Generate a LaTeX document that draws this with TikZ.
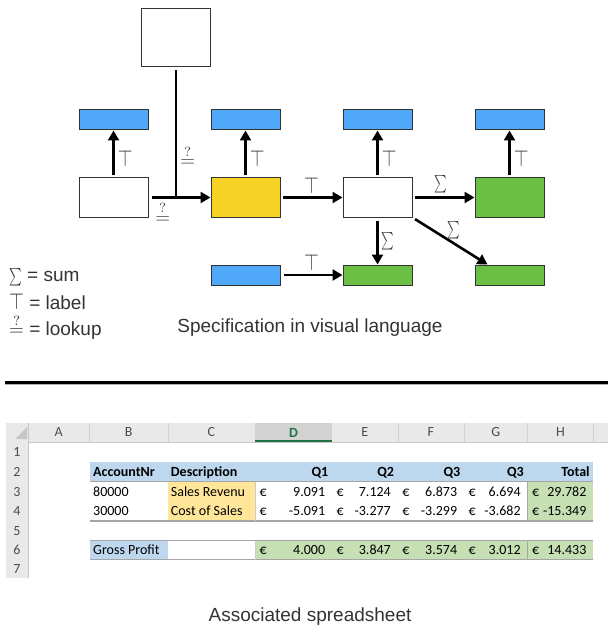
\documentclass[tikz,border=0pt]{standalone}
\usepackage{graphicx}
\usepackage{fontspec}
\setmainfont{Liberation Sans}
\newfontfamily\xlfont{Carlito}
\usetikzlibrary{
    arrows.meta,
    positioning
}

\definecolor{boxblue}{HTML}{52A8F8}
\definecolor{boxyellow}{HTML}{F5D327}
\definecolor{boxgreen}{HTML}{6CBE45}
\definecolor{hdrgray}{HTML}{E9E9E9}
\definecolor{hdrsel}{HTML}{D2D2D2}
\definecolor{xlgreen}{HTML}{217346}
\definecolor{cellblue}{HTML}{BDD7EE}
\definecolor{cellyellow}{HTML}{FFE699}
\definecolor{cellgreen}{HTML}{C6E0B4}
\definecolor{gridgray}{HTML}{A6A6A6}

% symbols, scaled from 10pt math
\newcommand{\labsym}{{\fontsize{10}{10}\selectfont\scalebox{1.9}[2.3]{$\top$}}}
\newcommand{\sumsym}{{\fontsize{10}{10}\selectfont\scalebox{1.2}[1.75]{$\sum$}}}
\newcommand{\lkpsym}{{\fontsize{10}{10}\selectfont\scalebox{1.9}[1.9]{$\stackrel{?}{=}$}}}

\begin{document}
\begin{tikzpicture}[
    x=1pt, y=-1pt,
    bigbox/.style = {rectangle, draw=black!80, line width=1pt,
                     minimum width=69pt, minimum height=39pt, inner sep=0pt},
    smallbox/.style = {rectangle, draw=black!80, line width=1pt,
                       minimum width=69pt, minimum height=20pt, inner sep=0pt},
    flowarrow/.style = {line width=2.6pt, -{Triangle[length=10pt,width=11pt]}},
    symlabel/.style = {text=black!75, inner sep=3pt},
    caption/.style = {text=black!80, font=\fontsize{19}{23}\selectfont, inner sep=0pt},
    cell/.style = {font=\xlfont\fontsize{14}{16}\selectfont, inner sep=0pt, anchor=base west},
    hdrcell/.style = {cell, font=\xlfont\bfseries\fontsize{14}{16}\selectfont},
    colhead/.style = {font=\xlfont\fontsize{14}{16}\selectfont, text=black!70, inner sep=0pt}
]
    \useasboundingbox (0,0) rectangle (608,628);

    % specification in visual language
    \node[bigbox] (src) at (113.5,197.5) {};
    \node[bigbox, fill=boxyellow] (look) [right=62pt of src] {};
    \node[bigbox] (calc) [right=62pt of look] {};
    \node[bigbox, fill=boxgreen] (sum) [right=62pt of calc] {};
    \node[bigbox, minimum height=58pt] (ref) at (176,38) {};

    \node[smallbox, fill=boxblue] (srclab) [above=47pt of src] {};
    \node[smallbox, fill=boxblue] (looklab) [above=47pt of look] {};
    \node[smallbox, fill=boxblue] (calclab) [above=47pt of calc] {};
    \node[smallbox, fill=boxblue] (sumlab) [above=47pt of sum] {};
    \node[smallbox, fill=boxgreen] (subtot) [below=47pt of calc] {};
    \node[smallbox, fill=boxgreen] (share) [below=47pt of sum] {};
    \node[smallbox, fill=boxblue] (const) [left=62pt of subtot] {};

    \draw[flowarrow, shorten <=2pt] (src.north) -- node[symlabel, right, pos=0.4] {\labsym} (srclab.south);
    \draw[flowarrow, shorten <=2pt] (look.north) -- node[symlabel, right, pos=0.4] {\labsym} (looklab.south);
    \draw[flowarrow, shorten <=2pt] (calc.north) -- node[symlabel, right, pos=0.4] {\labsym} (calclab.south);
    \draw[flowarrow, shorten <=2pt] (sum.north) -- node[symlabel, right, pos=0.4] {\labsym} (sumlab.south);

    \draw[line width=2.6pt, shorten <=3pt] (ref.south) -- node[symlabel, right, pos=0.68] {\lkpsym} (ref.south |- look.west);
    \draw[flowarrow, shorten <=3pt] (src.east) -- node[symlabel, below, pos=0.23] {\lkpsym} (look.west);
    \draw[flowarrow, shorten <=2pt] (look.east) -- node[symlabel, above] {\labsym} (calc.west);
    \draw[flowarrow, shorten <=2pt] (calc.east) -- node[symlabel, above, pos=0.45] {\sumsym} (sum.west);
    \draw[flowarrow, shorten <=3pt] (calc.south) -- node[symlabel, right] {\sumsym} (subtot.north);
    \draw[flowarrow, shorten <=3pt] (calc.south east) -- node[symlabel, above, pos=0.55] {\sumsym} ([xshift=13pt]share.north west);
    \draw[flowarrow, shorten <=3pt] (const.east) -- node[symlabel, above] {\labsym} (subtot.west);

    % legend
    \node[caption, anchor=west] (legsum) at (9,277) {\sumsym{} = sum};
    \node[caption, anchor=west] (leglabel) at (9,302) {\labsym{} = label};
    \node[caption, anchor=west] (leglookup) at (9,327) {\lkpsym{} = lookup};
    \node[caption] (spec) at (310,328) {Specification in visual language};

    \draw[line width=3pt] (5,382) -- (608,382);
    \draw[gray!60, line width=0.8pt] (5,384.2) -- (608,384.2);

    % associated spreadsheet
    \fill[hdrgray] (6,423) rectangle (608,442);
    \fill[hdrgray] (6,442) rectangle (28,578);
    \fill[hdrsel] (255,423) rectangle (332,442);
    \fill[gray!45] (27,427) -- (27,439) -- (15,439) -- cycle;
    \draw[gray!45] (28,423) -- (28,578);
    \draw[gray!45] (28,442) -- (608,442);
    \foreach \c/\a/\b in {A/28/89.5, B/89.5/167.7, C/167.7/255, E/332/397.7,
                          F/397.7/464, G/464/527.5, H/527.5/593.3} {
        \draw[gray!35] (\b,423) -- (\b,442);
        \node[colhead] (col\c) at ({(\a+\b)/2},432.5) {\c};
    }
    \node[colhead, text=xlgreen, font=\xlfont\bfseries\fontsize{14}{16}\selectfont] (colD) at (293.5,432.5) {D};
    \draw[xlgreen, line width=2pt] (255,441) -- (332,441);
    \foreach \r/\y in {1/452, 2/471.5, 3/491.5, 4/511, 5/531, 6/550, 7/569}
        \node[colhead] (row\r) at (17,\y) {\r};

    \fill[cellblue] (89.5,462) rectangle (593.3,481.5);
    \fill[cellyellow] (167.7,481.5) rectangle (255,521);
    \fill[cellgreen] (527.5,481.5) rectangle (593.3,521);
    \fill[cellblue] (89.5,540.5) rectangle (167.7,559.5);
    \fill[cellgreen] (255,540.5) rectangle (593.3,559.5);

    \draw[gridgray, line width=0.8pt] (89.5,481.5) -- (593.3,481.5);
    \draw[gridgray, line width=1.5pt] (89.5,521) -- (593.3,521);
    \draw[gridgray, line width=1.2pt] (89.5,540.5) -- (593.3,540.5);
    \draw[gridgray, line width=1.2pt] (89.5,559.5) -- (593.3,559.5);
    \draw[gray!40] (255,481.5) -- (255,521);
    \draw[gray!40] (255,540.5) -- (255,559.5);
    \draw[gridgray, line width=1.5pt] (527.5,481.5) -- (527.5,521);
    \draw[gridgray, line width=1.5pt] (527.5,540.5) -- (527.5,559.5);

    \node[hdrcell] (B2) at (93,476) {AccountNr};
    \node[hdrcell] (C2) at (170.7,476) {Description};
    \foreach \c/\b/\t in {D/332/Q1, E/397.7/Q2, F/464/Q3, G/527.5/Q3, H/593.3/Total}
        \node[hdrcell, anchor=base east] (\c2) at (\b-3.5,476) {\t};

    \node[cell] (B3) at (93,496) {80000};
    \node[cell] (C3) at (170.7,496) {Sales Revenu};
    \node[cell] (B4) at (93,515.5) {30000};
    \node[cell] (C4) at (170.7,515.5) {Cost of Sales};
    \node[cell] (B6) at (93,554.5) {Gross Profit};

    \foreach \r/\y/\d/\e/\f/\g/\h in {3/496/9.091/7.124/6.873/6.694/29.782,
                                      4/515.5/-5.091/-3.277/-3.299/-3.682/-15.349,
                                      6/554.5/4.000/3.847/3.574/3.012/14.433} {
        \foreach \c/\a/\b/\v in {D/255/332/\d, E/332/397.7/\e, F/397.7/464/\f,
                                 G/464/527.5/\g, H/527.5/593.3/\h} {
            \node[cell] (eu\c\r) at (\a+4.5,\y) {€};
            \node[cell, anchor=base east] (\c\r) at (\b-6.7,\y) {\v};
        }
    }

    \node[caption] (assoc) at (310,617) {Associated spreadsheet};

\end{tikzpicture}
\end{document}
